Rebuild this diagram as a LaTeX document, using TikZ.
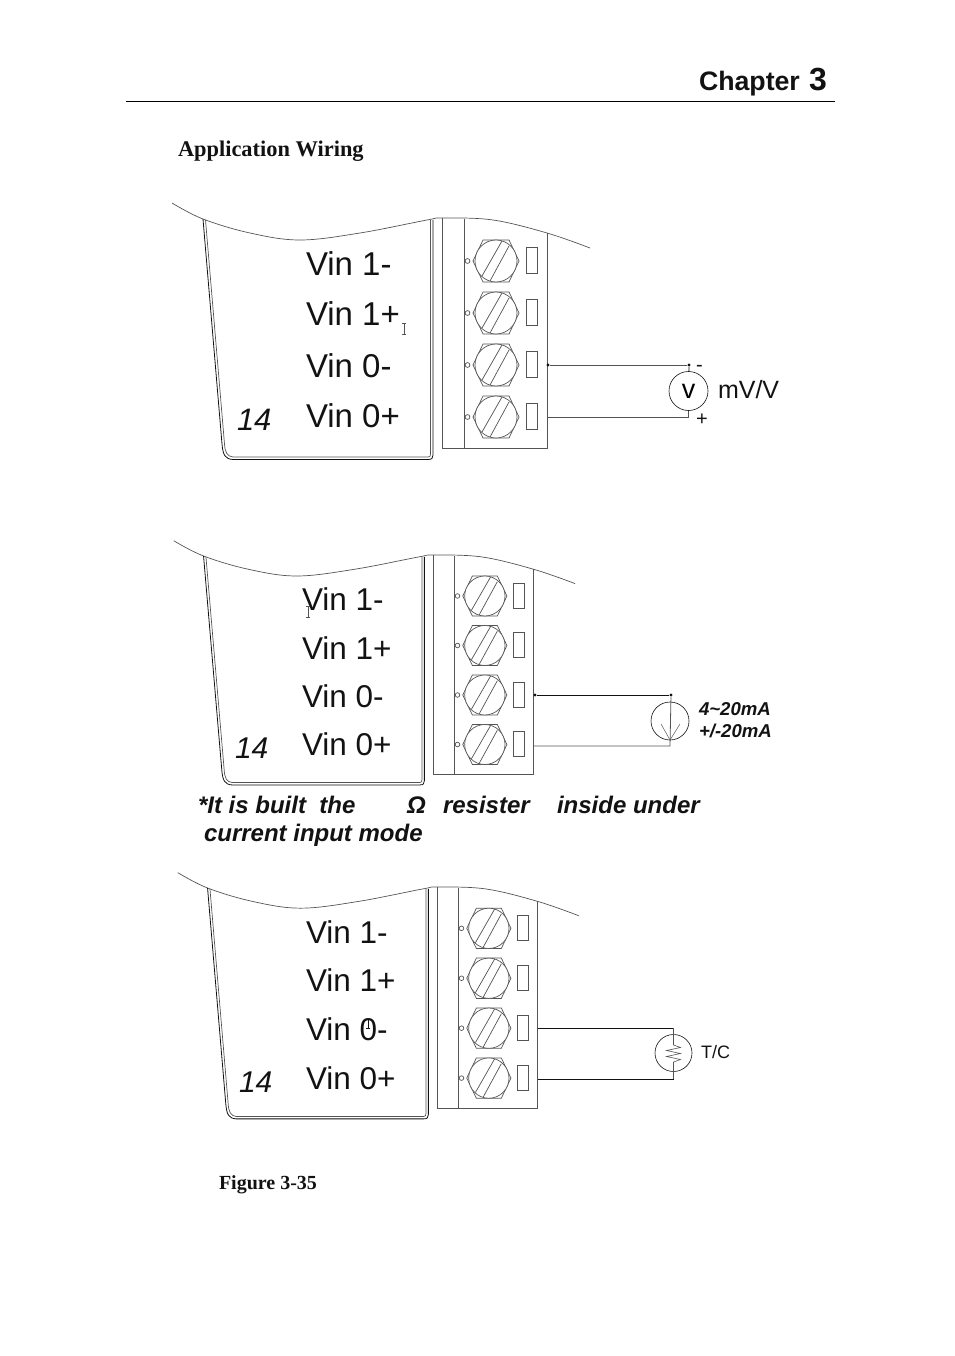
\documentclass[tikz,border=0pt]{standalone}
\usepackage{fontspec}
\setmainfont{Liberation Sans}
\newfontfamily\timesf{Liberation Serif}
\definecolor{wire}{gray}{0.33}
\definecolor{ink}{gray}{0.07}
\newcommand{\fs}[1]{\fontsize{#1}{#1}\selectfont}
\tikzset{
  x=1pt,y=-1pt,
  lbl/.style={inner sep=0pt,outer sep=0pt,anchor=base west,text=ink},
  thinline/.style={draw=wire,line width=0.7pt},
  wireline/.style={draw=wire,line width=0.8pt},
  darkwire/.style={draw=ink,line width=0.8pt},
  meter/.style={circle,draw=ink,line width=0.6pt,inner sep=0pt,outer sep=0pt},
  junction/.style={circle,fill=ink,inner sep=0pt,minimum size=3.2pt},
}
% one terminal screw, centred on the current origin
\newcommand{\screw}[1]{
  \begin{scope}[shift={#1}]
    \draw[thinline] (-23,0)--(-13,-21)--(13,-21)--(23,0)--(13,21)--(-13,21)--cycle;
    \draw[thinline,fill=white] (0,0) circle (21);
    \draw[thinline] (-14,15)--(6,-20) (-6,20)--(13,-15);
    \draw[thinline] (-28.5,0) circle (2.4);
    \draw[thinline] (30,-13.5) rectangle (41.5,12.5);
  \end{scope}
}
% housing and terminal block, origin at top-left of block
\newcommand{\module}[4]{
  \begin{scope}[shift={(#1,#2)},xscale=#3,yscale=#4]
    \draw[thinline] plot[smooth,tension=0.6] coordinates {(-270,-16) (-239,0) (-192,14) (-142,21) (-82,14) (-15,1) (1,-1) (51,1) (105,14) (148,29)};
    \draw[thinline] (0,-1)--(0,229)--(105,229)--(105,14);
    \draw[thinline] (22,0)--(22,229);
    \draw[draw=ink,line width=0.8pt] (-239,0)--(-220,225) .. controls (-219,236) and (-217,240) .. (-209,240.5) -- (-14,240.5) .. controls (-10,240.5) and (-9,239) .. (-9,236) -- (-9,1);
    \draw[thinline] (-236.5,1)--(-217.5,225) .. controls (-217,233) and (-215,237.5) .. (-209,238) -- (-14,238) .. controls (-12,238) and (-11.5,237) .. (-11.5,235) -- (-11.5,1);
    \screw{(54,42)}
    \screw{(54,94)}
    \screw{(54,146)}
    \screw{(54,198)}
  \end{scope}
}
\begin{document}
\begin{tikzpicture}
\useasboundingbox (0,0) rectangle (954,1356);
% page header
\node[lbl,font=\fs{26.7}\bfseries] (chap) at (699,91) {Chapter};
\node[lbl,font=\fs{32}\bfseries] (chapn) at (809,91) {3};
\coordinate (ruleL) at (126,101.5);
\coordinate (ruleR) at (835,101.5);
\draw[draw=black,line width=1pt] (ruleL)--(ruleR);
\node[lbl,font=\timesf\fs{22.4}\bfseries] (title) at (178,157) {Application Wiring};
\node[lbl,font=\timesf\fs{20}\bfseries] (fig) at (219,1189) {Figure 3-35};

% module 1
\module{442}{219}{1}{1}
\node[lbl,font=\fs{33}] (a1) at (306,275) {Vin 1-};
\node[lbl,font=\fs{33}] (a2) at (306,325) {Vin 1+};
\node[lbl,font=\fs{33}] (a3) at (306,377) {Vin 0-};
\node[lbl,font=\fs{33}] (a4) at (306,427) {Vin 0+};
\node[lbl,font=\fs{31}\itshape] (a14) at (237,430) {14};
\draw[thinline,line width=0.5pt] (404,323)--(404,334) (402,323)--(406,323) (402,334)--(406,334);
\coordinate (aT3) at (548,365);
\coordinate (aT4) at (547,417);
\node[junction] (aJ1) at (aT3) {};
\node[junction] (aJ2) at (689,365) {};
\node[meter,minimum size=39pt] (aV) at (688.5,391) {\fs{27}v};
\coordinate (aB) at (688.5,417);
\draw[wireline] (aJ1)--(aJ2);
\draw[darkwire] (aJ2)--(aV);
\draw[wireline] (aT4)--(aB);
\draw[wireline] (aB)--(aV);
\node[lbl,font=\fs{20}] (aminus) at (696,371) {-};
\node[lbl,font=\fs{20}] (aplus) at (696,425) {+};
\node[lbl,font=\fs{25}] (amv) at (718,398) {mV/V};

% module 2
\module{433}{556}{0.96}{0.952}
\node[lbl,font=\fs{31.5}] (b1) at (302,610) {Vin 1-};
\node[lbl,font=\fs{31.5}] (b2) at (302,659) {Vin 1+};
\node[lbl,font=\fs{31.5}] (b3) at (302,707) {Vin 0-};
\node[lbl,font=\fs{31.5}] (b4) at (302,755) {Vin 0+};
\node[lbl,font=\fs{30}\itshape] (b14) at (235,758) {14};
\draw[thinline,line width=0.5pt] (308,606)--(308,617) (306,606)--(310,606) (306,617)--(310,617);
\node[junction] (bJ1) at (535,695) {};
\node[junction] (bJ2) at (671,695) {};
\coordinate (bT4) at (534,746);
\coordinate (bB) at (670,746);
\node[meter,minimum size=38pt] (bI) at (670,721) {};
\draw[darkwire] (bJ1)--(bJ2);
\draw[wireline] (bT4)--(bB)--(bJ2);
\coordinate (bTip) at (670,740);
\coordinate (bA1) at (661,724);
\coordinate (bA2) at (680,724);
\draw[thinline,line width=0.5pt] (bA1)--(bTip)--(bA2);
\node[lbl,font=\fs{18.6}\bfseries\itshape] (bl1) at (699,715) {4\char`\~20mA};
\node[lbl,font=\fs{18.6}\bfseries\itshape] (bl2) at (699,737) {+/-20mA};
\node[lbl,font=\fs{24}\bfseries\itshape] (n1) at (198,813) {*It is built\ \ the};
\node[lbl,font=\fs{24}\bfseries\itshape] (n2) at (407,813) {Ω};
\node[lbl,font=\fs{24}\bfseries\itshape] (n3) at (443,813) {resister};
\node[lbl,font=\fs{24}\bfseries\itshape] (n4) at (557,813) {inside under};
\node[lbl,font=\fs{24}\bfseries\itshape] (n5) at (204,841) {current input mode};

% module 3
\module{437}{888}{0.96}{0.96}
\node[lbl,font=\fs{31.5}] (c1) at (306,943) {Vin 1-};
\node[lbl,font=\fs{31.5}] (c2) at (306,991) {Vin 1+};
\node[lbl,font=\fs{31.5}] (c3) at (306,1040) {Vin 0-};
\node[lbl,font=\fs{31.5}] (c4) at (306,1089) {Vin 0+};
\node[lbl,font=\fs{30}\itshape] (c14) at (239,1092) {14};
\draw[draw=ink,line width=0.5pt] (368,1019)--(368,1028) (366,1019)--(370,1019) (366,1028)--(370,1028);
\coordinate (cT3) at (538,1028);
\coordinate (cT4) at (538,1079);
\coordinate (cC3) at (673.5,1028);
\coordinate (cC4) at (673.5,1079);
\node[meter,minimum size=37pt] (cR) at (673.5,1053) {};
\coordinate (cZ1) at (673.5,1045);
\coordinate (cZ2) at (673.5,1062);
\draw[darkwire] (cT3)--(cC3);
\draw[darkwire] (cT4)--(cC4);
\draw[wireline] (cC3)--(cZ1);
\draw[wireline] (cC4)--(cZ2);
\draw[thinline,line width=0.6pt] (cZ1)--++(7,2.5)--++(-14,3)--++(14,3)--++(-14,3)--++(14,3)--(cZ2);
\node[lbl,font=\fs{18}] (ctc) at (701,1058) {T/C};
\end{tikzpicture}
\end{document}
